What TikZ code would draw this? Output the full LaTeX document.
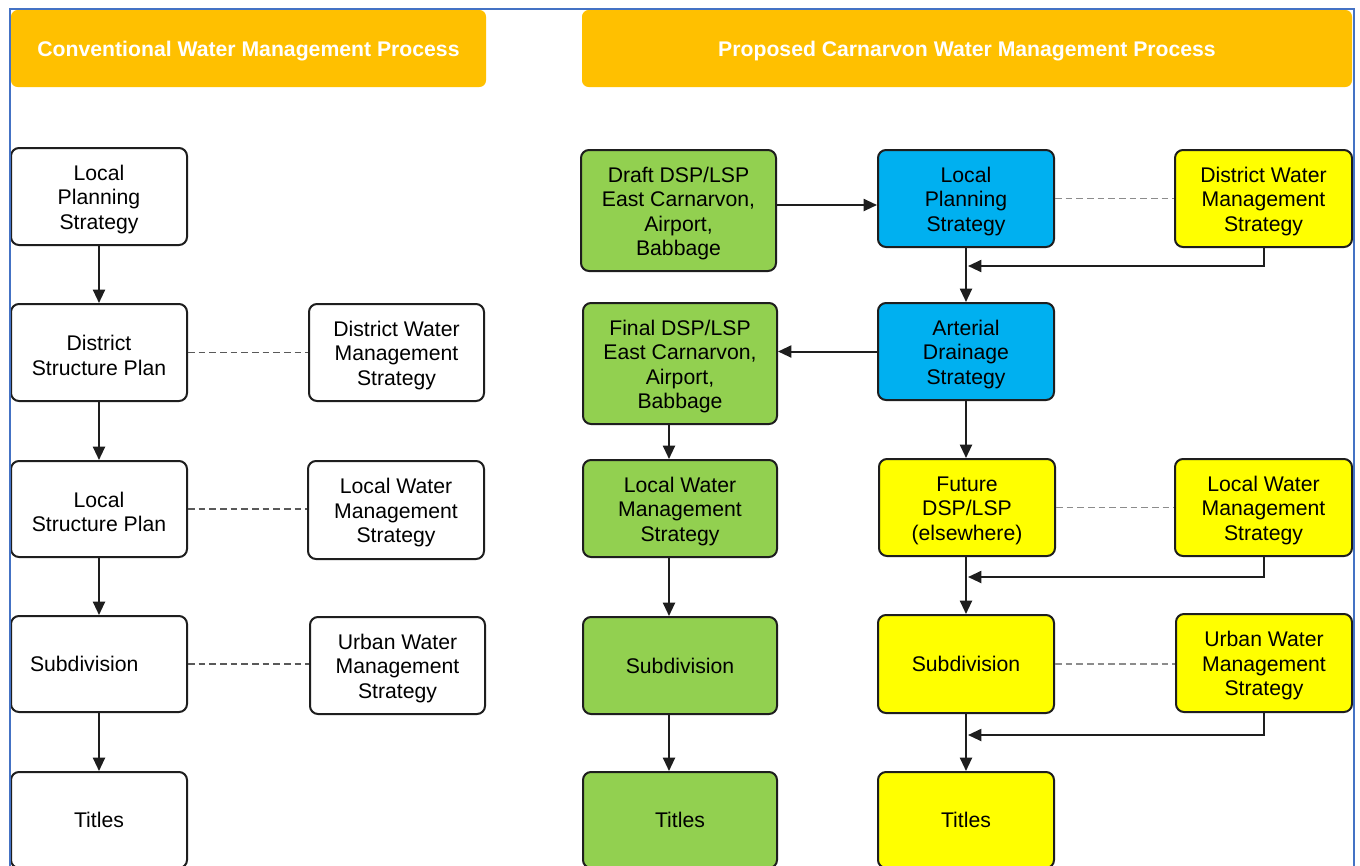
\documentclass[tikz,border=0pt]{standalone}
\usepackage{fontspec}
\setmainfont{Liberation Sans}
\usetikzlibrary{arrows.meta}
\definecolor{hdr}{HTML}{FFC000}
\definecolor{grn}{HTML}{92D050}
\definecolor{blu}{HTML}{00B0F0}
\definecolor{ylw}{HTML}{FFFF00}
\definecolor{frame}{HTML}{4472C4}
\definecolor{edge}{HTML}{1E1E1E}
\newcommand{\fl}{\rule{0pt}{15.9pt}}
\tikzset{
  bx/.style={draw=edge, line width=1.5pt, rounded corners=6pt, align=center, inner sep=2pt,
    font=\fontsize{15.9}{18.4}\selectfont, text=black},
  wbx/.style={bx, fill=white},
  gbx/.style={bx, fill=grn},
  bbx/.style={bx, fill=blu},
  ybx/.style={bx, fill=ylw},
  hbox/.style={fill=hdr, rounded corners=5pt, text=white, font=\fontsize{15.9}{18.4}\selectfont\bfseries,
    minimum height=57.75pt, execute at begin node={\rule{0pt}{15.5pt}}},
  arr/.style={draw=edge, line width=1.5pt, -{Triangle[length=10pt,width=9pt]}},
  dl/.style={draw=black!65, line width=1pt, dash pattern=on 5pt off 3pt},
  dr/.style={draw=black!45, line width=1.2pt, dash pattern=on 5pt off 3pt},
}
\begin{document}
\begin{tikzpicture}[x=0.75pt,y=-0.75pt]
\useasboundingbox (0,0) rectangle (1360,865);
\clip (0,0) rectangle (1360,865);
\fill[white] (0,0) rectangle (1360,865);
% headers
\node[hbox, minimum width=356.25pt] (h1) at (248.5,48.5) {Conventional Water Management Process};
\node[hbox, minimum width=577.5pt] (h2) at (967,48.5) {Proposed Carnarvon Water Management Process};
% left column
\node[wbx, minimum width=132pt, minimum height=72.75pt] (lps) at (99,196.5) {\fl Local\\Planning\\Strategy};
\node[wbx, minimum width=132pt, minimum height=72.75pt] (dsp) at (99,352.5) {\fl District\\Structure Plan};
\node[wbx, minimum width=132pt, minimum height=72pt] (lsp) at (99,509) {\fl Local\\Structure Plan};
\node[wbx, minimum width=132pt, minimum height=72pt, text width=103.5pt, inner xsep=14.25pt, align=left] (sub) at (99,664) {Subdivision};
\node[wbx, minimum width=132pt, minimum height=72pt] (tit) at (99,820) {Titles};
\node[wbx, minimum width=131.25pt, minimum height=72.75pt] (dwms) at (396.5,352.5) {\fl District Water\\Management\\Strategy};
\node[wbx, minimum width=132pt, minimum height=73.5pt] (lwms) at (396,510) {\fl Local Water\\Management\\Strategy};
\node[wbx, minimum width=131.25pt, minimum height=72.75pt] (uwms) at (397.5,665.5) {\fl Urban Water\\Management\\Strategy};
% left connectors
\draw[arr] (lps) -- (dsp);
\draw[arr] (dsp) -- (lsp);
\draw[arr] (lsp) -- (sub);
\draw[arr] (sub) -- (tit);
\draw[dl] (dsp.east) -- (dwms.west |- dsp.east);
\draw[dl] (lsp.east) -- (lwms.west |- lsp.east);
\draw[dl] (sub.east) -- (uwms.west |- sub.east);
% right side
\node[gbx, minimum width=146.25pt, minimum height=90.75pt] (draft) at (678.5,210.5) {\fl Draft DSP/LSP\\East Carnarvon,\\Airport,\\Babbage};
\node[bbx, minimum width=132pt, minimum height=72.75pt] (lpsB) at (966,198.5) {\fl Local\\Planning\\Strategy};
\node[ybx, minimum width=132.75pt, minimum height=72.75pt] (dwmsY) at (1263.5,198.5) {\fl District Water\\Management\\Strategy};
\node[gbx, minimum width=145.5pt, minimum height=90.75pt] (final) at (680,363.5) {\fl Final DSP/LSP\\East Carnarvon,\\Airport,\\Babbage};
\node[bbx, minimum width=132pt, minimum height=72.75pt] (art) at (966,351.5) {\fl Arterial\\Drainage\\Strategy};
\node[gbx, minimum width=145.5pt, minimum height=72.75pt] (lwmsG) at (680,508.5) {\fl Local Water\\Management\\Strategy};
\node[ybx, minimum width=132pt, minimum height=72.75pt] (fut) at (967,507.5) {\fl Future\\DSP/LSP\\(elsewhere)};
\node[ybx, minimum width=132.75pt, minimum height=72.75pt] (lwmsY) at (1263.5,507.5) {\fl Local Water\\Management\\Strategy};
\node[gbx, minimum width=145.5pt, minimum height=72.75pt] (subG) at (680,665.5) {Subdivision};
\node[ybx, minimum width=132pt, minimum height=73.5pt] (subY) at (966,664) {Subdivision};
\node[ybx, minimum width=132pt, minimum height=73.5pt] (uwmsY) at (1264,663) {\fl Urban Water\\Management\\Strategy};
\node[gbx, minimum width=145.5pt, minimum height=72pt] (titG) at (680,820) {Titles};
\node[ybx, minimum width=132pt, minimum height=72pt] (titY) at (966,820) {Titles};
% helper coordinates
\coordinate (ya) at (0,205);
\coordinate (gx) at (669,0);
\coordinate (j1) at (968,266);
\coordinate (j2) at (968,577);
\coordinate (j3) at (968,735);
% right connectors
\draw[arr] (draft.east |- ya) -- (lpsB.west |- ya);
\draw[arr] (lpsB) -- (art);
\draw[arr] (dwmsY.south) |- (j1);
\draw[arr] (art.west) -- (final.east |- art.west);
\draw[arr] (gx |- final.south) -- (gx |- lwmsG.north);
\draw[arr] (gx |- lwmsG.south) -- (gx |- subG.north);
\draw[arr] (gx |- subG.south) -- (gx |- titG.north);
\draw[arr] (art) -- (fut.north -| art);
\draw[arr] (fut.south -| art) -- (subY.north -| art);
\draw[arr] (lwmsY.south) |- (j2);
\draw[arr] (subY) -- (titY);
\draw[arr] (uwmsY.south) |- (j3);
\draw[dr] (lpsB.east) -- (dwmsY.west |- lpsB.east);
\draw[dr] (fut.east) -- (lwmsY.west |- fut.east);
\draw[dr] (subY.east) -- (uwmsY.west |- subY.east);
% frame
\draw[frame, line width=1.2pt] (10,870) -- (10,9) -- (1354,9) -- (1354,870);
\end{tikzpicture}
\end{document}
